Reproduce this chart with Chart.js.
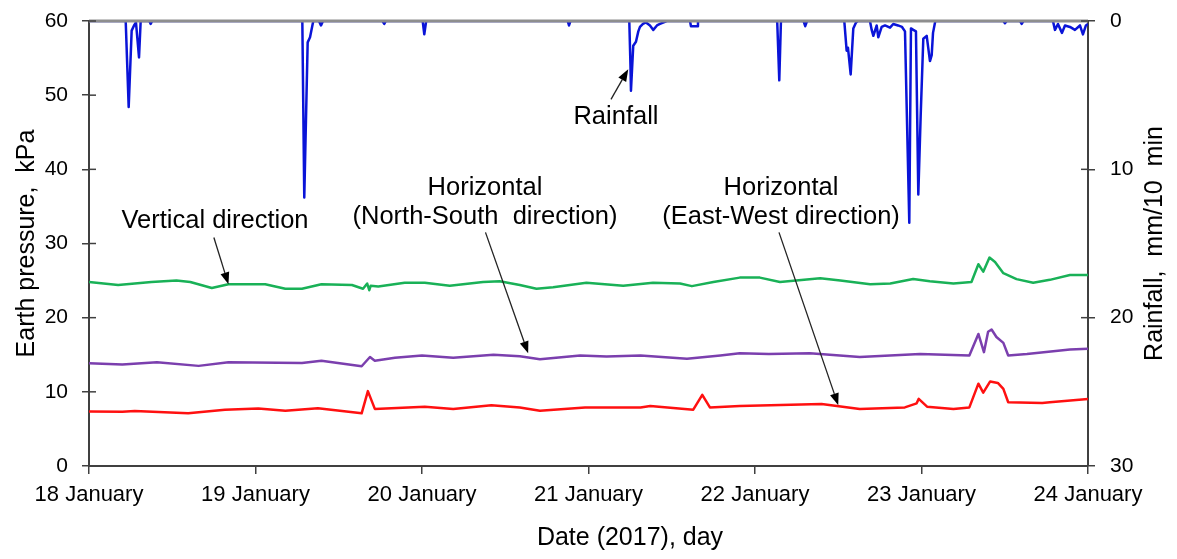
<!DOCTYPE html>
<html>
<head>
<meta charset="utf-8">
<title>Earth pressure and rainfall, January 2017</title>
<script src="https://cdn.jsdelivr.net/npm/chart.js@4.4.1/dist/chart.umd.min.js"></script>
<style>
  html, body { margin: 0; padding: 0; background: #fff; }
  #wrap { width: 1177px; height: 559px; }
</style>
</head>
<body>
<div id="wrap"><canvas id="grafico" width="1177" height="559"></canvas></div>
<script>
// x values are hours counted from 18 January 00:00
const dayLabels = ['18 January', '19 January', '20 January', '21 January', '22 January', '23 January', '24 January'];

// Vertical direction (green)
const vertHours = [0, 4.2, 6.6, 9.0, 12.6, 14.6, 17.7, 20.1, 25.4, 28.3, 30.7, 33.5, 37.9, 39.5, 40.1, 40.4, 40.6, 41.7, 45.5, 48.4,
  52.0, 56.8, 59.2, 62.1, 64.5, 66.9, 71.7, 77.0, 81.3, 85.2, 86.9, 90.0, 93.8, 96.7, 99.6, 105.4, 108.3, 112.6, 115.5, 118.8,
  121.2, 124.6, 127.2, 128.2, 128.9, 129.8, 130.6, 131.8, 133.7, 136.1, 138.5, 141.4, 144];
const vertKpa = [24.8, 24.4, 24.6, 24.8, 25.0, 24.8, 24.0, 24.5, 24.5, 23.9, 23.9, 24.5, 24.4, 23.9, 24.6, 23.7, 24.3, 24.2, 24.7, 24.7,
  24.3, 24.8, 24.9, 24.4, 23.9, 24.1, 24.7, 24.3, 24.7, 24.6, 24.25, 24.8, 25.4, 25.4, 24.8, 25.3, 25.0, 24.5, 24.6, 25.2,
  24.9, 24.6, 24.8, 27.2, 26.2, 28.1, 27.5, 26.0, 25.2, 24.7, 25.1, 25.75, 25.75];

// Horizontal, North-South (purple)
const nsHours = [0, 4.8, 9.8, 15.8, 20.1, 30.7, 33.5, 39.3, 40.5, 41.2, 44.1, 48.0, 52.5, 58.3, 62.1, 65.0, 70.8, 74.6, 79.5, 86.2,
  91.0, 93.8, 98.0, 103.9, 111.1, 119.8, 126.9, 128.2, 129.0, 129.6, 130.1, 130.8, 131.8, 132.5, 135.2, 141.4, 144];
const nsKpa = [13.86, 13.7, 14.0, 13.5, 14.0, 13.9, 14.2, 13.45, 14.7, 14.2, 14.6, 14.9, 14.6, 15.0, 14.8, 14.4, 14.9, 14.75, 14.9, 14.45,
  14.9, 15.2, 15.1, 15.2, 14.7, 15.1, 14.9, 17.8, 15.35, 18.1, 18.4, 17.4, 16.6, 14.9, 15.1, 15.7, 15.8];

// Horizontal, East-West (red)
const ewHours = [0, 4.8, 6.6, 14.3, 19.6, 24.4, 28.3, 33.0, 39.3, 40.2, 41.2, 48.4, 52.5, 58.0, 62.1, 65.0, 71.5, 79.5, 80.9, 87.1,
  88.4, 89.5, 93.8, 105.6, 111.1, 117.6, 119.3, 119.6, 120.8, 124.6, 126.9, 128.2, 128.9, 129.9, 131.0, 131.8, 132.5, 137.4, 138.5, 144];
const ewKpa = [7.36, 7.3, 7.4, 7.1, 7.6, 7.76, 7.45, 7.8, 7.1, 10.1, 7.7, 8.0, 7.7, 8.2, 7.9, 7.45, 7.9, 7.9, 8.1, 7.6,
  9.6, 7.9, 8.1, 8.35, 7.7, 7.9, 8.45, 9.05, 8.0, 7.7, 7.9, 11.1, 9.9, 11.4, 11.2, 10.4, 8.6, 8.5, 8.6, 9.05];

// Rainfall, mm per 10 min (blue, right axis, reversed)
const rainHours = [0, 5.29, 5.72, 6.15, 6.49, 6.77, 7.21, 7.45, 8.7, 8.89, 9.1,
  30.75, 31.03, 31.52, 31.86, 32.33, 33.15, 33.44, 33.73,
  42.3, 42.56, 42.8, 48.1, 48.33, 48.6, 69.0, 69.19, 69.4,
  77.88, 78.05, 78.12, 78.45, 78.84, 79.18, 79.42, 79.85, 80.29, 80.86, 81.34, 81.87, 82.3, 83.02, 83.3,
  86.63, 86.77, 87.64, 87.78,
  99.2, 99.5, 99.74, 103.0, 103.24, 103.5,
  108.87, 109.21, 109.4, 109.79, 110.17, 110.56, 110.8,
  112.57, 112.82, 113.06, 113.54, 113.77, 114.26, 114.74, 115.46, 115.93, 116.61, 117.19, 117.62,
  118.24, 118.48, 118.82, 119.2, 119.54, 119.88, 120.26, 120.75, 121.22, 121.47, 121.66, 121.99,
  131.8, 132.03, 132.3, 134.2, 134.44, 134.7,
  138.95, 139.24, 139.67, 140.25, 140.68, 141.4, 142.12, 142.84, 143.27, 143.7, 144];
const rainMm = [0, 0, 5.8, 0.65, 0.3, 0.1, 2.46, 0, 0, 0.2, 0,
  0, 11.9, 1.44, 1.1, 0, 0, 0.3, 0,
  0, 0.2, 0, 0, 0.9, 0, 0, 0.3, 0,
  0, 3.0, 4.7, 1.67, 1.4, 0.7, 0.4, 0.2, 0.1, 0.3, 0.6, 0.3, 0.2, 0.05, 0,
  0, 0.35, 0.35, 0,
  0, 4.0, 0, 0, 0.35, 0,
  0, 2.0, 1.8, 3.6, 0.5, 0.1, 0,
  0, 0.6, 1.0, 0.3, 1.1, 0.4, 0.3, 0.45, 0.2, 0.3, 0.4, 0.7,
  13.6, 0.5, 0.6, 0.7, 11.7, 6.4, 1.2, 1.0, 2.7, 2.3, 0.8, 0,
  0, 0.15, 0, 0, 0.2, 0,
  0, 0.6, 0.2, 0.8, 0.3, 0.4, 0.6, 0.3, 0.9, 0.3, 0.2];

// labels with arrows, placed in (hours, kPa)
const notes = [
  { lines: ['Rainfall'], at: [75.96, 47.1], from: [75.24, 49.44], to: [77.73, 53.49] },
  { lines: ['Vertical direction'], at: [18.16, 33.08], from: [18.0, 30.8], to: [20.1, 24.5] },
  { lines: ['Horizontal', '(North-South  direction)'], at: [57.08, 35.5], from: [57.15, 31.5], to: [63.3, 15.2] },
  { lines: ['Horizontal', '(East-West direction)'], at: [99.75, 35.5], from: [99.46, 31.5], to: [108.0, 8.19] }
];

const FONT = '"Liberation Sans", Arial, sans-serif';
const AXIS = '#404040';
Chart.defaults.font.family = FONT;
Chart.defaults.color = '#000';

function serie(hours, values) {
  return hours.map((h, i) => ({ x: h, y: values[i] }));
}

// y axes keep a fixed width and ask for no extra room above/below
function fixWidth(s) {
  s.width = 89;
  s.paddingTop = 0;
  s.paddingBottom = 0;
}

function arrow(ctx, x1, y1, x2, y2) {
  const ang = Math.atan2(y2 - y1, x2 - x1);
  const len = 12, half = 4.5;
  const bx = x2 - len * Math.cos(ang), by = y2 - len * Math.sin(ang);
  ctx.beginPath();
  ctx.moveTo(x1, y1);
  ctx.lineTo(bx, by);
  ctx.stroke();
  ctx.beginPath();
  ctx.moveTo(x2, y2);
  ctx.lineTo(bx + half * Math.sin(ang), by - half * Math.cos(ang));
  ctx.lineTo(bx - half * Math.sin(ang), by + half * Math.cos(ang));
  ctx.closePath();
  ctx.fill();
}

// top frame line, inner halves of the y ticks, titles and arrow notes
const extras = {
  id: 'extras',
  afterDraw(chart) {
    const { ctx, chartArea: a, scales } = chart;
    const x = scales.x, y = scales.y, y2 = scales.y2;
    ctx.save();

    // the frame line also hides the zero stretches of the rainfall line
    ctx.strokeStyle = '#8e8e8e';
    ctx.lineWidth = 2.8;
    ctx.beginPath();
    ctx.moveTo(a.left, a.top);
    ctx.lineTo(a.right, a.top);
    ctx.stroke();

    ctx.strokeStyle = AXIS;
    ctx.lineWidth = 1.5;
    y.ticks.forEach(t => {
      const p = y.getPixelForValue(t.value);
      ctx.beginPath(); ctx.moveTo(a.left, p); ctx.lineTo(a.left + 7, p); ctx.stroke();
    });
    y2.ticks.forEach(t => {
      const p = y2.getPixelForValue(t.value);
      ctx.beginPath(); ctx.moveTo(a.right - 7, p); ctx.lineTo(a.right, p); ctx.stroke();
    });

    ctx.fillStyle = '#000';
    ctx.font = '25px ' + FONT;
    ctx.textAlign = 'center';
    ctx.textBaseline = 'middle';

    // right axis title, read bottom to top
    ctx.save();
    ctx.translate(1155, (a.top + a.bottom) / 2);
    ctx.rotate(-Math.PI / 2);
    ctx.fillText('Rainfall,  mm/10  min', 0, 0);
    ctx.restore();

    // x axis title
    ctx.fillText('Date (2017), day', 630, 538);

    ctx.font = '25.5px ' + FONT;
    ctx.strokeStyle = '#222';
    ctx.lineWidth = 1.3;
    notes.forEach(n => {
      const cx = x.getPixelForValue(n.at[0]);
      const cy = y.getPixelForValue(n.at[1]);
      n.lines.forEach((s, i) => {
        ctx.fillText(s, cx, cy + (i - (n.lines.length - 1) / 2) * 29);
      });
      arrow(ctx,
        x.getPixelForValue(n.from[0]), y.getPixelForValue(n.from[1]),
        x.getPixelForValue(n.to[0]), y.getPixelForValue(n.to[1]));
    });

    ctx.restore();
  }
};

const ctx = document.getElementById('grafico').getContext('2d');
new Chart(ctx, {
  type: 'line',
  data: {
    datasets: [
      { label: 'Vertical direction', data: serie(vertHours, vertKpa), yAxisID: 'y', borderColor: '#19b157', borderWidth: 2.5 },
      { label: 'Horizontal (North-South)', data: serie(nsHours, nsKpa), yAxisID: 'y', borderColor: '#7b3fae', borderWidth: 2.5 },
      { label: 'Horizontal (East-West)', data: serie(ewHours, ewKpa), yAxisID: 'y', borderColor: '#ff1010', borderWidth: 2.5 },
      { label: 'Rainfall', data: serie(rainHours, rainMm), yAxisID: 'y2', borderColor: '#0a14d8', borderWidth: 2.5 }
    ]
  },
  options: {
    responsive: false,
    animation: false,
    devicePixelRatio: 1,
    layout: { padding: { top: 21, left: 0, right: 0, bottom: 0 } },
    elements: {
      point: { radius: 0 },
      line: { tension: 0, fill: false, borderJoinStyle: 'round' }
    },
    plugins: {
      legend: { display: false },
      tooltip: { enabled: false }
    },
    scales: {
      x: {
        type: 'linear',
        min: 0,
        max: 144,
        afterFit: s => { s.height = 93; },
        ticks: {
          stepSize: 24,
          autoSkip: false,
          maxRotation: 0,
          padding: 8,
          font: { size: 22 },
          callback: v => dayLabels[v / 24]
        },
        grid: { drawOnChartArea: false, tickLength: 8, color: AXIS, lineWidth: 1.5 },
        border: { color: AXIS, width: 2 }
      },
      y: {
        position: 'left',
        min: 0,
        max: 60,
        afterFit: fixWidth,
        ticks: { stepSize: 10, padding: 14, font: { size: 21 } },
        grid: { drawOnChartArea: false, tickLength: 7, color: AXIS, lineWidth: 1.5 },
        border: { color: AXIS, width: 2 },
        title: {
          display: true,
          text: 'Earth pressure,  kPa',
          font: { size: 25 },
          padding: { top: 12, bottom: 0 }
        }
      },
      y2: {
        position: 'right',
        reverse: true,
        min: 0,
        max: 30,
        afterFit: fixWidth,
        ticks: { stepSize: 10, padding: 15, font: { size: 21 } },
        grid: { drawOnChartArea: false, tickLength: 7, color: AXIS, lineWidth: 1.5 },
        border: { color: AXIS, width: 2 }
      }
    }
  },
  plugins: [extras]
});
</script>
</body>
</html>
